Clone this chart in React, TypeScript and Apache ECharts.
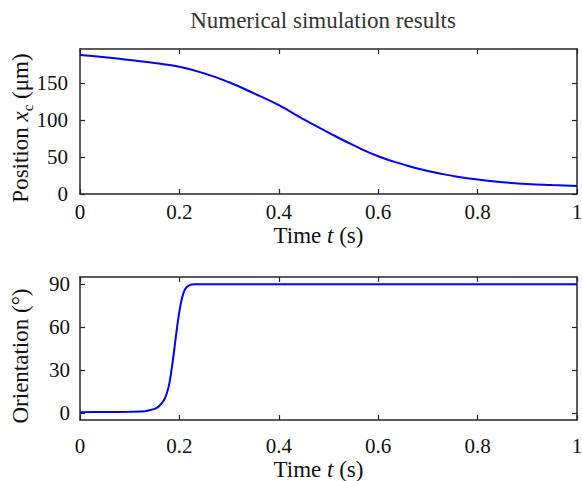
import React, { useEffect, useRef } from "react";
import * as echarts from "echarts";

const titleText = "Numerical simulation results";
const posName = "{n|Position }{i|x}{sub|c}{n| (μm)}";
const oriName = "{n|Orientation (°)}";
const timeName = "{n|Time }{i|t}{n| (s)}";

const posTime = [0, 0.05, 0.1, 0.15, 0.2, 0.25, 0.3, 0.35, 0.4, 0.45, 0.5, 0.55, 0.6, 0.65, 0.7, 0.75, 0.8, 0.85, 0.9, 0.95, 1.0];
const posValues = [188, 185, 181, 177, 172, 163, 151, 136, 120, 101, 83, 66, 51, 40, 31, 24.5, 19.5, 16, 13.5, 12, 10.8];

const oriTime = [0, 0.05, 0.1, 0.12, 0.13, 0.14, 0.15, 0.155, 0.16, 0.165, 0.17, 0.175, 0.18, 0.185, 0.19, 0.195, 0.2, 0.205, 0.21, 0.215, 0.22, 0.225, 0.23, 0.235, 0.24, 0.3, 0.5, 0.7, 1.0];
const oriValues = [0.5, 0.55, 0.7, 0.95, 1.2, 1.8, 2.8, 3.7, 5, 7, 9.5, 14, 21, 32, 45, 59, 71, 80, 85.5, 88, 89.2, 89.7, 89.9, 90, 90, 90, 90, 90, 90];

const posTicks = [0, 50, 100, 150];
const oriTicks = [0, 30, 60, 90];

const FONT = "Liberation Serif";
const AXIS_COLOR = "#262626";
const TEXT_COLOR = "#111";

export default function App() {
  const ref = useRef<HTMLDivElement>(null);
  useEffect(() => {
    if (!ref.current) return;
    const chart = echarts.init(ref.current, undefined, { renderer: "svg" });
    const lineStyle = { color: AXIS_COLOR, width: 1.5 };
    const tickBase = { show: true, inside: true, length: 5, lineStyle: { color: AXIS_COLOR, width: 1.2 } };
    const labelBase = {
      color: TEXT_COLOR,
      fontFamily: FONT,
      fontSize: 21,
      formatter: (v: number) => `{s|${v}}`,
      rich: { s: { fontFamily: FONT, fontSize: 21, color: TEXT_COLOR } },
    };
    const richNames = {
      n: { fontFamily: FONT, fontSize: 23, color: TEXT_COLOR, lineHeight: 30, verticalAlign: "middle" },
      i: { fontFamily: FONT, fontSize: 23, fontStyle: "italic", color: TEXT_COLOR, lineHeight: 30, verticalAlign: "middle" },
      sub: { fontFamily: FONT, fontSize: 15, color: TEXT_COLOR, lineHeight: 15, verticalAlign: "bottom" },
    };
    const xBottom = (gi: number, gap: number, margin: number) => ({
      type: "value",
      gridIndex: gi,
      min: 0,
      max: 1,
      interval: 0.2,
      position: "bottom",
      axisLine: { show: true, onZero: false, lineStyle },
      axisTick: tickBase,
      axisLabel: { ...labelBase, margin },
      splitLine: { show: false },
      name: timeName,
      nameLocation: "middle",
      nameGap: gap,
      nameTextStyle: {
        color: TEXT_COLOR,
        fontFamily: FONT,
        fontSize: 23,
        padding: [0, 20, 0, 0],
        rich: richNames,
      },
    });
    const xTop = (gi: number) => ({
      type: "value",
      gridIndex: gi,
      min: 0,
      max: 1,
      interval: 0.2,
      position: "top",
      axisLine: { show: true, onZero: false, lineStyle },
      axisTick: tickBase,
      axisLabel: { show: false },
      splitLine: { show: false },
    });
    const yAxisCommon = (gi: number, min: number, max: number, ticks: number[], pos: string, labels: boolean, margin = 12) => ({
      type: "value",
      gridIndex: gi,
      min,
      max,
      position: pos,
      axisLine: { show: true, onZero: false, lineStyle },
      axisTick: { ...tickBase, customValues: ticks },
      axisLabel: labels ? { ...labelBase, margin, customValues: ticks } : { show: false },
      splitLine: { show: false },
    });
    const option: any = {
      animation: false,
      backgroundColor: "#fff",
      textStyle: { fontFamily: FONT },
      title: {
        text: titleText,
        left: 318,
        top: 4,
        textAlign: "center",
        textStyle: { fontFamily: FONT, fontSize: 23, fontWeight: "normal", color: "#333" },
      },
      grid: [
        { left: 80, right: 5, top: 49, height: 145, outerBoundsMode: "none", containLabel: false },
        { left: 80, right: 5, top: 277, height: 143, outerBoundsMode: "none", containLabel: false },
      ],
      xAxis: [xBottom(0, 26, 7), xTop(0), xBottom(1, 34, 15), xTop(1)],
      yAxis: [
        yAxisCommon(0, 0, 196, posTicks, "left", true, 12),
        yAxisCommon(0, 0, 196, posTicks, "right", false),
        yAxisCommon(1, -5, 95, oriTicks, "left", true, 10),
        yAxisCommon(1, -5, 95, oriTicks, "right", false),
      ],
      graphic: [
        {
          type: "text",
          x: 20,
          y: 128,
          rotation: Math.PI / 2,
          style: {
            text: posName,
            rich: richNames,
            align: "center",
            verticalAlign: "middle",
            fill: TEXT_COLOR,
            font: `23px ${FONT}`,
          },
        },
        {
          type: "text",
          x: 20,
          y: 356,
          rotation: Math.PI / 2,
          style: {
            text: oriName,
            rich: richNames,
            align: "center",
            verticalAlign: "middle",
            fill: TEXT_COLOR,
            font: `23px ${FONT}`,
          },
        },
      ],
      series: [
        {
          type: "line",
          xAxisIndex: 0,
          yAxisIndex: 0,
          data: posTime.map((t, i) => [t, posValues[i]]),
          smooth: 0.5,
          showSymbol: false,
          lineStyle: { color: "#0000ff", width: 2 },
        },
        {
          type: "line",
          xAxisIndex: 2,
          yAxisIndex: 2,
          data: oriTime.map((t, i) => [t, oriValues[i]]),
          smooth: 0.3,
          showSymbol: false,
          lineStyle: { color: "#0000ff", width: 2 },
        },
      ],
    };
    chart.setOption(option);
    return () => chart.dispose();
  }, []);
  return (
    <div
      ref={ref}
      style={{ position: "fixed", left: 0, top: 0, width: 582, height: 481, background: "#fff" }}
    />
  );
}
